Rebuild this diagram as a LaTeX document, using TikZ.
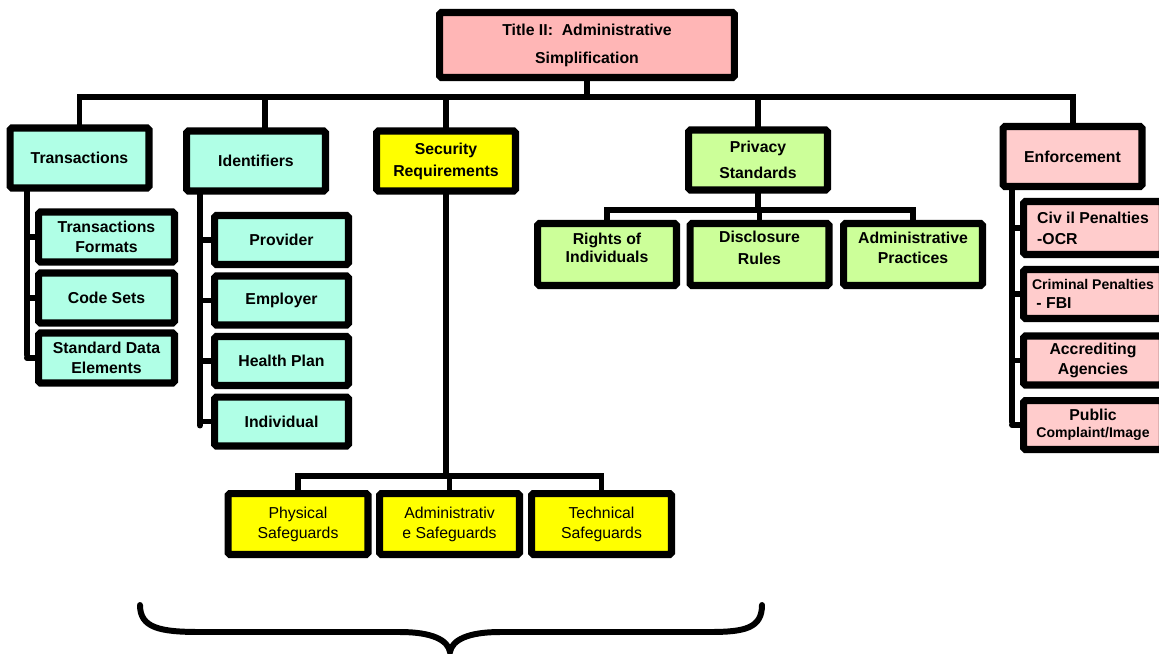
\documentclass[tikz,border=0pt]{standalone}
\usepackage{fontspec}
\setmainfont{Liberation Sans}
\usepackage{tikz}
\usetikzlibrary{positioning, calc}

\definecolor{titlepink}{HTML}{FFB6B6}
\definecolor{enfpink}{HTML}{FFCCCC}
\definecolor{aqua}{HTML}{B0FFE6}
\definecolor{privgreen}{HTML}{CCFF99}
\definecolor{safeyellow}{HTML}{FFFF00}

\newcommand{\lowpad}{\rule[-8pt]{0pt}{0pt}}

\begin{document}
\begin{tikzpicture}[x=0.02cm, y=-0.02cm,
  box/.style={draw, line width=4pt, rounded corners=1pt, align=center, inner sep=1pt, font=\bfseries\fontsize{9}{12}\selectfont},
  topbox/.style={box, minimum width=2.78cm, minimum height=1.2cm},
  transbox/.style={box, fill=aqua, minimum width=2.72cm, minimum height=1.0cm, font=\bfseries\fontsize{9}{11.4}\selectfont},
  identbox/.style={box, fill=aqua, minimum width=2.68cm, minimum height=0.98cm},
  safebox/.style={box, fill=safeyellow, minimum width=2.8cm, minimum height=1.22cm, font=\fontsize{9}{11.4}\selectfont},
  privbox/.style={box, fill=privgreen, minimum width=2.78cm, minimum height=1.24cm},
  enfbox/.style={box, fill=enfpink, minimum width=2.78cm, minimum height=0.98cm},
  conn/.style={line width=3.4pt, line cap=round}
]
  \useasboundingbox (0,0) rectangle (1159,653);

  % top
  \node[box, fill=titlepink, minimum width=5.9cm, minimum height=1.3cm, font=\bfseries\fontsize{9}{16}\selectfont] (title) at (587,45) {Title II:\ \ Administrative\\Simplification};

  \node[topbox, fill=aqua] (trans) at (79.5,158) {Transactions};
  \node[topbox, fill=aqua] (ident) at (256,161) {Identifiers};
  \node[topbox, fill=safeyellow, font=\bfseries\fontsize{9}{12.5}\selectfont] (secur) at (446,161) {Security\\Requirements};
  \node[topbox, fill=privgreen, font=\bfseries\fontsize{9}{15}\selectfont] (priv) at (758,160) {Privacy\\Standards};
  \node[topbox, fill=enfpink] (enforce) at (1072.5,156.5) {Enforcement};

  % transactions
  \node[transbox] (tformats) at (106.5,237) {Transactions\\Formats};
  \node[transbox] (codesets) at (106.5,298) {Code Sets};
  \node[transbox] (sde) at (106.5,358) {Standard Data\\Elements};

  % identifiers
  \node[identbox] (provider) at (281.5,240) {Provider};
  \node[identbox] (employer) at (281.5,300.5) {Employer};
  \node[identbox] (healthplan) at (281.5,361) {Health Plan};
  \node[identbox] (individual) at (281.5,421.5) {Individual};

  % security
  \node[safebox] (physical) at (298,524) {Physical\\Safeguards};
  \node[safebox] (adminsafe) at (449.5,524) {Administrativ\\e Safeguards};
  \node[safebox] (technical) at (601.5,524) {Technical\\Safeguards};

  % privacy
  \node[privbox, font=\bfseries\fontsize{9}{10.2}\selectfont] (rights) at (607,254.5) {Rights of\\Individuals\lowpad};
  \node[privbox, font=\bfseries\fontsize{9}{12.5}\selectfont] (disclosure) at (759.5,254.5) {Disclosure\\Rules\lowpad};
  \node[privbox, font=\bfseries\fontsize{9}{11.4}\selectfont] (adminprac) at (913,254.5) {Administrative\\Practices\lowpad};

  % enforcement
  \node[enfbox, align=left, minimum height=1.06cm] (civil) at (1093,228) {Civ il Penalties\\-OCR};
  \node[enfbox, align=left, font=\bfseries\fontsize{8}{10.5}\selectfont] (criminal) at (1093,294) {Criminal Penalties\\{\fontsize{9}{10.5}\selectfont\ - FBI}};
  \node[enfbox, font=\bfseries\fontsize{9}{11.4}\selectfont] (accred) at (1093,360.5) {Accrediting\\Agencies};
  \node[enfbox, font=\bfseries\fontsize{9}{9.7}\selectfont] (public) at (1093,425) {Public\\{\fontsize{8}{9.7}\selectfont Complaint/Image}};

  % connectors
  \coordinate (mainbus) at (587,97);
  \coordinate (secbus) at (449.5,476);
  \coordinate (privbus) at (760,210);
  \coordinate (tspine) at (27,0);
  \coordinate (ispine) at (200,0);
  \coordinate (espine) at (1012,0);

  \draw[conn] (title.south) -- (mainbus);
  \draw[conn] (trans.north) |- (mainbus) -| (enforce.north);
  \draw[conn] ($(ident.north)+(9,0)$) -- ($(ident.north |- mainbus)+(9,0)$);
  \foreach \n in {secur,priv}
    \draw[conn] (\n.north) -- (\n.north |- mainbus);

  \draw[conn] (trans.south -| tspine) -- ($(sde.west -| tspine)+(0,-3)$);
  \foreach \n in {tformats,codesets,sde}
    \draw[conn] (\n.west -| tspine) -- (\n.west);

  \draw[conn] (ident.south -| ispine) -- ($(individual.west -| ispine)+(0,4)$);
  \foreach \n in {provider,employer,healthplan,individual}
    \draw[conn] (\n.west -| ispine) -- (\n.west);

  \draw[conn] (enforce.south -| espine) -- ($(public.west -| espine)+(0,-3)$);
  \foreach \n in {civil,criminal,accred,public}
    \draw[conn] (\n.west -| espine) -- (\n.west);

  \draw[conn] (secur.south) -- (secur.south |- secbus);
  \draw[conn] (physical.north) |- (secbus) -| (technical.north);
  \draw[conn] (adminsafe.north) -- (secbus);

  \draw[conn] (priv.south) -- (priv.south |- privbus);
  \draw[conn] (rights.north) |- (privbus) -| (adminprac.north);
  \draw[conn] (disclosure.north) -- (disclosure.north |- privbus);

  % brace
  \draw[conn] (140,605) .. controls (140,628) and (160,632) .. (200,632) -- (400,632)
    .. controls (432,632) and (448,640) .. (450,652)
    .. controls (452,640) and (468,632) .. (500,632) -- (710,632)
    .. controls (745,632) and (762,628) .. (762,605);
\end{tikzpicture}
\end{document}
